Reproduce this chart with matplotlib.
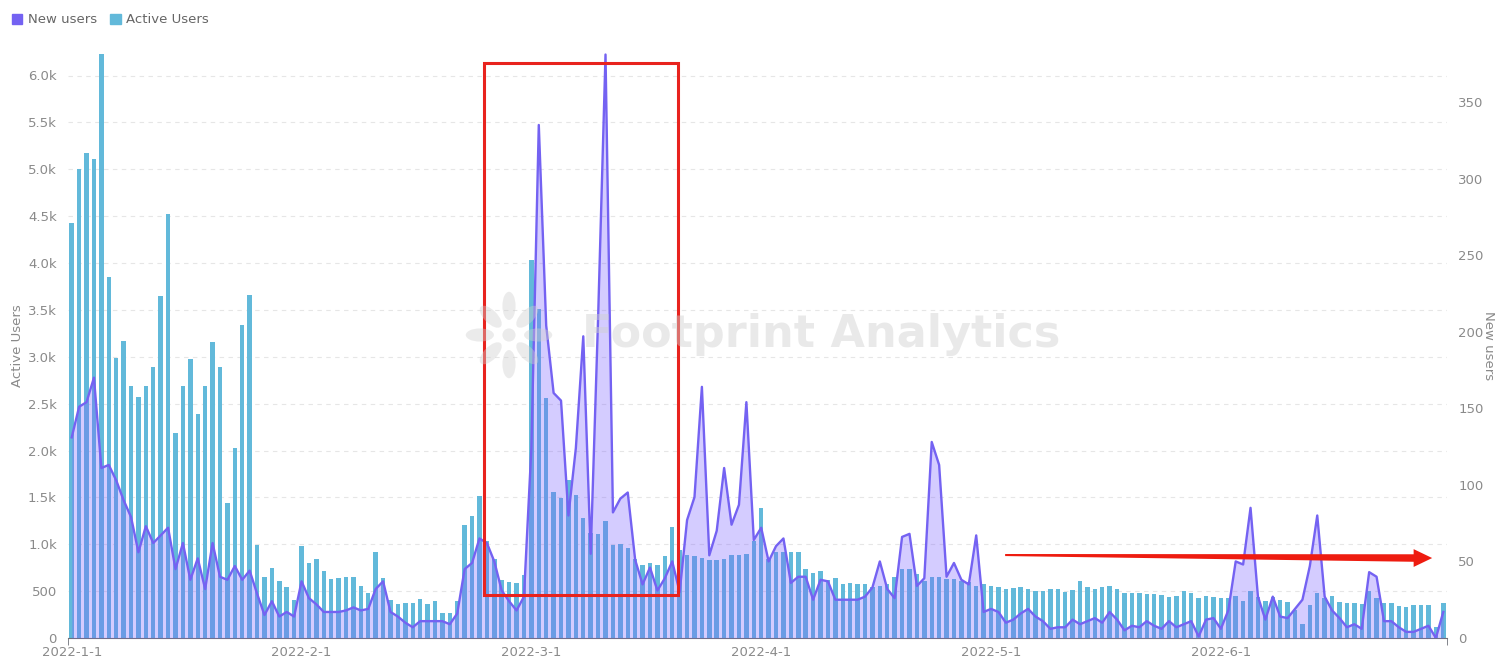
import numpy as np
import matplotlib.pyplot as plt
from matplotlib.patches import Rectangle, Polygon, Ellipse, Patch

# daily active users (left axis), one value per category
active_users = [
    4430, 5000, 5170, 5110, 6230, 3850, 2990, 3170, 2690, 2570, 2690, 2890, 3650, 4520, 2190, 2690,
    2980, 2390, 2690, 3160, 2890, 1445, 2030, 3335, 3660,
    995, 652, 750, 612, 540, 408, 982,
    798, 840, 716, 631, 642, 648, 652, 550, 482, 915, 645, 408, 362, 370, 376, 418, 362, 397, 270,
    270, 397,
    1206, 1298, 1511, 1035, 840, 624, 600, 585, 667,
    4030, 3510, 2560, 1553, 1496, 1681, 1521, 1277, 1117, 1110, 1252, 993, 1007, 957, 840, 783,
    798, 783, 876, 1184, 936, 890, 876, 855, 830, 830, 847, 890, 890, 900, 1035, 1383,
    840, 915, 915, 922, 922, 738, 691, 713, 624, 642, 574, 585, 580, 574, 546, 550, 574, 652, 738,
    738, 688, 606, 652, 652, 628, 628, 613, 599, 550, 571, 550, 539, 525, 532, 546, 525, 504, 504,
    518, 518, 493, 514, 610, 539, 518,
    539, 550, 528, 482, 482, 482, 468, 468, 454, 433, 443, 504, 482, 422, 443, 433, 422, 422, 443,
    397, 504, 433, 397, 433, 408, 387, 298, 152, 351, 482, 422, 443, 387, 376, 376, 362, 504, 422,
    376, 376, 340, 326, 351, 351, 351, 117, 376,
]

# daily new users (right axis)
new_users = [
    131, 151, 154, 170, 111, 113, 103, 90, 79, 56, 73, 62, 67, 72, 45, 62, 38, 52, 32, 62, 40, 38,
    47, 38, 44, 29, 15, 24, 14, 17, 14, 37,
    26, 22, 17, 17, 17, 18, 20, 18, 19, 32, 37, 17, 14, 10, 7, 11, 11, 11, 11, 9, 16,
    45, 49, 65, 62, 50, 31, 24, 18, 27,
    124, 335, 204, 160, 155, 80, 124, 197, 55, 209, 381, 82, 91, 95, 51, 35, 46, 31, 39, 50, 30,
    77, 92, 164, 54, 70, 111, 74, 87, 154, 64, 72,
    50, 60, 65, 36, 40, 40, 25, 38, 37, 25, 25, 25, 25, 27, 33, 50, 32, 26, 66, 68, 34, 39, 128,
    113, 40, 49, 38, 35, 67, 17, 19, 17, 10, 12, 16, 19, 14, 11, 6, 7, 7, 12, 9, 11, 13,
    10, 17, 12, 5, 8, 7, 11, 8, 6, 11, 7, 9, 11, 1, 12, 13, 6, 18, 50, 48, 85, 27, 12, 27, 14, 13,
    19, 25, 47, 80, 27, 18, 13, 7, 9, 6, 43, 40, 11, 11, 7, 4, 4, 6, 8, 0, 17,
]

date_ticks = [0, 31, 62, 93, 124, 155]
date_labels = ["2022-1-1", "2022-2-1", "2022-3-1", "2022-4-1", "2022-5-1", "2022-6-1"]

left_ticks = [0, 500, 1000, 1500, 2000, 2500, 3000, 3500, 4000, 4500, 5000, 5500, 6000]
left_labels = ["0", "500", "1.0k", "1.5k", "2.0k", "2.5k", "3.0k", "3.5k", "4.0k", "4.5k",
               "5.0k", "5.5k", "6.0k"]
right_ticks = [0, 50, 100, 150, 200, 250, 300, 350]

BAR_C = "#62b9da"
LINE_C = "#7462f2"
TXT_C = "#8a8a8a"

x = np.arange(len(active_users))

fig = plt.figure(figsize=(15.07, 6.68), dpi=100)
ax = fig.add_axes([68 / 1507, 1 - 638 / 668, 1379 / 1507, 585 / 668])
ax2 = ax.twinx()

ax.set_zorder(1)
ax.patch.set_visible(False)
ax2.set_zorder(2)

ax.bar(x, active_users, width=0.6, color=BAR_C, zorder=2)
ax.set_xlim(-0.5, len(active_users) - 0.5)
ax.set_ylim(0, 6240)
ax.set_yticks(left_ticks)
ax.set_yticklabels(left_labels)
ax.grid(axis="y", color="#e6e6e6", linestyle=(0, (4, 4)), linewidth=0.8, zorder=0)

ax2.fill_between(x, new_users, 0, color="#7b61ff", alpha=0.32, linewidth=0)
ax2.plot(x, new_users, color=LINE_C, linewidth=1.7)
ax2.set_ylim(0, 382)
ax2.set_yticks(right_ticks)

ax.set_xticks(date_ticks)
ax.set_xticklabels(date_labels)
ax.set_xticks([-0.5, len(active_users) - 0.5], minor=True)
ax.tick_params(axis="x", which="major", length=0, pad=6, labelsize=9.5, labelcolor=TXT_C)
ax.tick_params(axis="x", which="minor", length=5, color="#6e7079")
ax.tick_params(axis="y", length=0, pad=8, labelsize=9.5, labelcolor=TXT_C)
ax2.tick_params(axis="y", length=0, pad=8, labelsize=9.5, labelcolor=TXT_C)

for a in (ax, ax2):
    for s in ("top", "left", "right"):
        a.spines[s].set_visible(False)
ax2.spines["bottom"].set_visible(False)
ax.spines["bottom"].set_color("#6e7079")

ax.set_ylabel("Active Users", color=TXT_C, fontsize=9.5, labelpad=3)
ax2.set_ylabel("New users", color=TXT_C, fontsize=9.5, rotation=270, labelpad=8)

# red highlight box and arrow (annotations), drawn above the line
ax2.add_patch(Rectangle((55.6, 458), 26.2, 5680, fill=False, edgecolor="#e8231e",
                        linewidth=2.2, zorder=6, transform=ax.transData))
arrow = Polygon([(125.9, 885 + 11), (181.0, 853 + 40), (181.0, 853 + 95), (183.5, 853),
                 (181.0, 853 - 95), (181.0, 853 - 40), (125.9, 885 - 11)],
                closed=True, color="#ee1c10", lw=0, zorder=6, transform=ax.transData)
ax2.add_patch(arrow)

# watermark on top, faint
fig.text(0.545, 0.499, "Footprint Analytics", fontsize=32, fontweight="bold",
         color="#cfcfcf", alpha=0.45, ha="center", va="center", zorder=10)
logo = fig.add_axes([462 / 1507, 1 - 382 / 668, 94 / 1507, 94 / 668], zorder=10)
logo.set_xlim(-1, 1)
logo.set_ylim(-1, 1)
logo.axis("off")
for k, ang in enumerate(np.arange(0, 360, 45)):
    r = 0.62 if k % 2 == 0 else 0.55
    cx, cy = r * np.cos(np.radians(ang)), r * np.sin(np.radians(ang))
    logo.add_patch(Ellipse((cx, cy), 0.6, 0.28, angle=ang, color="#cfcfcf", alpha=0.4, lw=0))
logo.add_patch(Ellipse((0, 0), 0.28, 0.28, color="#cfcfcf", alpha=0.4, lw=0))

handles = [Patch(color=LINE_C), Patch(color=BAR_C)]
fig.legend(handles, ["New users", "Active Users"], loc="upper left", bbox_to_anchor=(0.0, 0.998),
           ncol=2, frameon=False, fontsize=9.5, labelcolor="#666666", handlelength=0.8,
           handleheight=0.8, handletextpad=0.4, columnspacing=1.0)

fig.savefig("out.png", dpi=100)
